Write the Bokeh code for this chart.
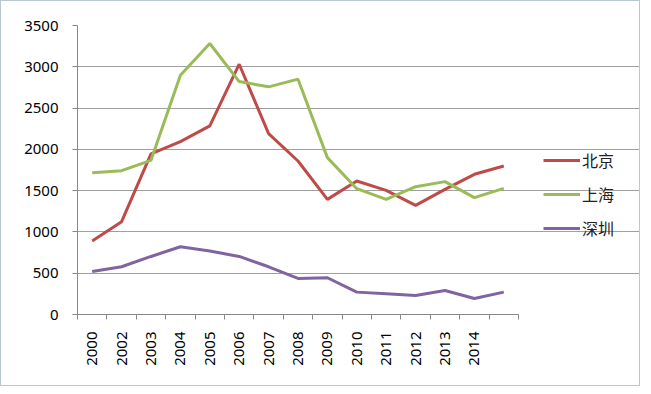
import math
from bokeh.plotting import figure
from bokeh.models import (ColumnDataSource, FixedTicker, Legend, LegendItem, Range1d)
from bokeh.embed import file_html
from bokeh.resources import INLINE

years = ["2000", "2002", "2003", "2004", "2005", "2006", "2007", "2008",
         "2009", "2010", "2011", "2012", "2013", "2014", ""]
beijing = [889, 1124, 1945, 2094, 2284, 3031, 2191, 1859, 1394, 1617, 1504, 1322, 1516, 1698, 1799]
shanghai = [1718, 1742, 1867, 2898, 3282, 2821, 2757, 2850, 1900, 1524, 1394, 1548, 1609, 1415, 1528]
shenzhen = [521, 578, 703, 820, 768, 703, 578, 437, 445, 271, 251, 230, 291, 194, 271]
names = ["北京", "上海", "深圳"]
colors = ["#BE4B48", "#9BBB59", "#8064A2"]

n = len(years)
xs = [i + 0.5 for i in range(n)]
src = ColumnDataSource(dict(x=xs, bj=beijing, sh=shanghai, sz=shenzhen))

W, H = 640, 386
left, top, bottom = 76, 24, 73
plot_px = 441  # width of the data area
frame_px = W - left
x_end = n * frame_px / plot_px

p = figure(width=W, height=H, output_backend="svg", toolbar_location=None,
           x_range=Range1d(0, x_end), y_range=Range1d(0, 3500),
           min_border_left=left, min_border_top=top, min_border_right=0, min_border_bottom=bottom)
p.outline_line_color = None
p.styles = {"border": "1px solid #b8c8cc"}

renderers = []
for col, c in zip(["bj", "sh", "sz"], colors):
    r = p.line("x", col, source=src, line_color=c, line_width=3)
    renderers.append(r)

# x axis
p.xaxis.bounds = (0, n)
p.xaxis.ticker = FixedTicker(ticks=xs, minor_ticks=list(range(n + 1)))
p.xaxis.major_label_overrides = {x: y for x, y in zip(xs, years)}
p.xaxis.major_label_orientation = math.pi / 2
p.xaxis.major_tick_out = 0
p.xaxis.major_tick_in = 0
p.xaxis.minor_tick_out = 5
p.xaxis.minor_tick_in = 0
p.xaxis.minor_tick_line_color = "#888888"
p.xaxis.axis_line_color = "#888888"
p.xaxis.major_label_standoff = 12
p.xaxis.major_label_text_font = "Noto Sans"
p.xaxis.major_label_text_font_size = "15px"
p.xaxis.major_label_text_color = "#000000"
p.xgrid.grid_line_color = None

# y axis
p.yaxis.ticker = FixedTicker(ticks=[0, 500, 1000, 1500, 2000, 2500, 3000, 3500])
p.yaxis.major_tick_out = 5
p.yaxis.major_tick_in = 0
p.yaxis.minor_tick_line_color = None
p.yaxis.axis_line_color = "#888888"
p.yaxis.major_tick_line_color = "#888888"
p.yaxis.major_label_standoff = 14
p.yaxis.major_label_text_font = "Noto Sans"
p.yaxis.major_label_text_font_size = "15px"
p.yaxis.major_label_text_color = "#000000"
p.ygrid.grid_line_color = "#a0a0a0"
p.ygrid.grid_line_width = 1
p.ygrid.bounds = (0, n)

legend = Legend(items=[LegendItem(label=nm, renderers=[r]) for nm, r in zip(names, renderers)],
                location=(466, 74), glyph_width=37, glyph_height=20, label_height=20,
                spacing=10, label_standoff=2, label_text_font="Noto Sans CJK SC",
                label_text_font_size="16px", label_text_color="#222222",
                border_line_color=None, background_fill_alpha=0, padding=0, margin=0)
p.add_layout(legend, "center")

open("out.html", "w").write(file_html(p, INLINE))
